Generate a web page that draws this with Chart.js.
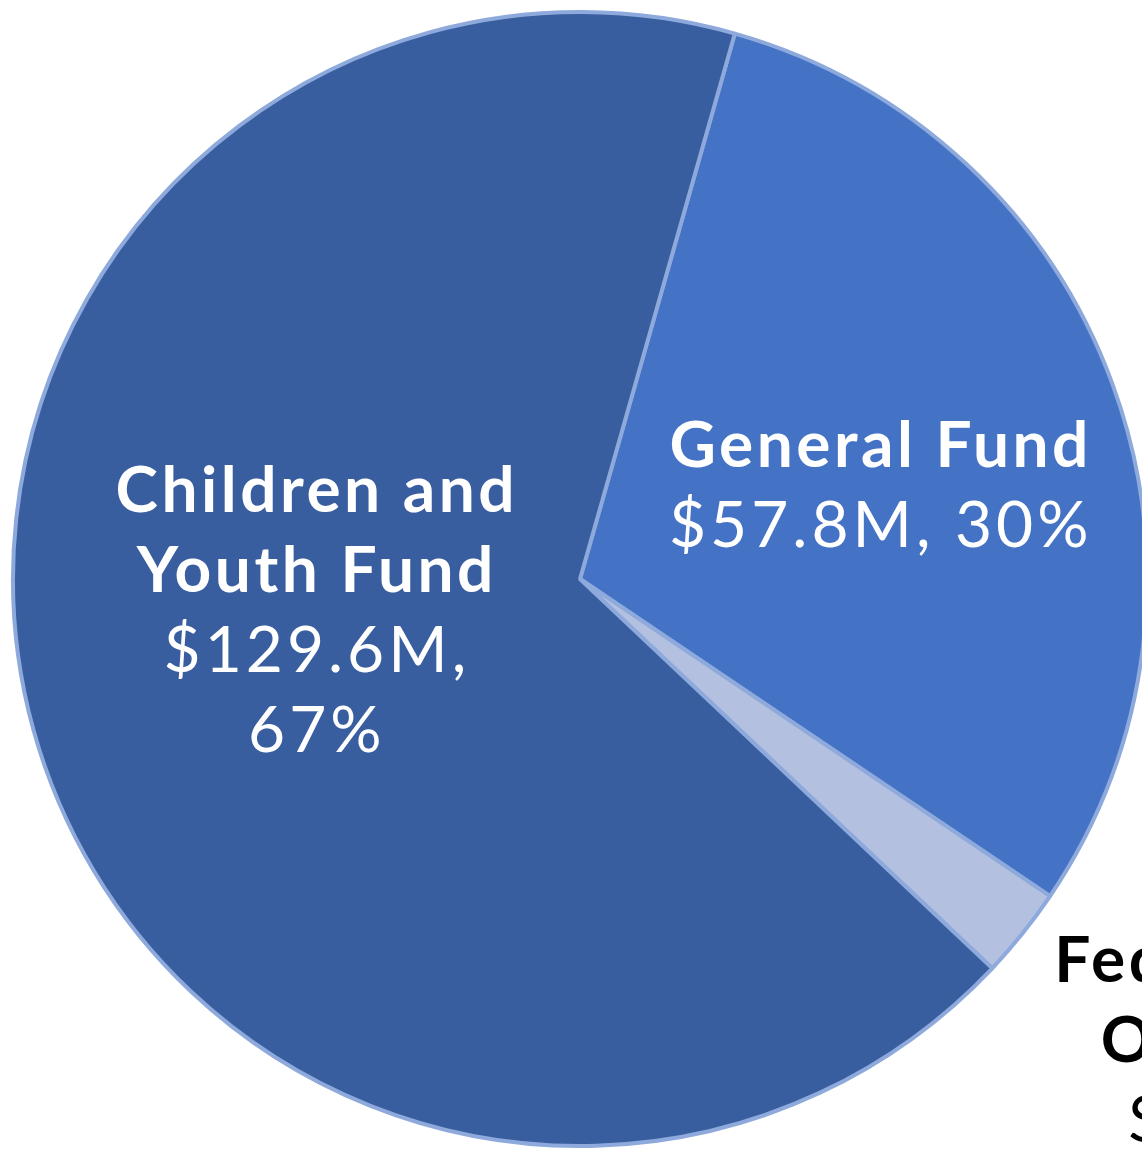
<!DOCTYPE html>
<html>
<head>
<meta charset="utf-8">
<script src="https://cdn.jsdelivr.net/npm/chart.js@4/dist/chart.umd.min.js"></script>
<style>
    html, body { margin: 0; padding: 0; background: #fff; overflow: hidden; }
    #wrap { position: absolute; left: 0; top: 0; width: 1160px; height: 1149px; }
</style>
</head>
<body>
<div id="wrap"><canvas id="fundChart"></canvas></div>
<script>
// Funding sources (millions of dollars), clockwise from the top-right slice
const funds = ['General Fund', 'Federal & State Other Funds', 'Children and Youth Fund'];
const amounts = [57.8, 5.0, 129.6];
const percents = ['30%', '3%', '67%'];

// How each label is broken onto lines (bold name lines, then value lines)
const nameLines = [['General Fund'], ['Federal & State', 'Other Funds'], ['Children and', 'Youth Fund']];
const valueLines = [['$57.8M, 30%'], ['$5.0M, 3%'], ['$129.6M,', '67%']];

const sliceColors = ['#4472C4', '#B4C0E0', '#385E9F'];
const textColors = ['#ffffff', '#000000', '#ffffff'];

// where each label sits: distance from centre (fraction of radius) and angle nudge in degrees
const labelPlace = [
    { dist: 0.556, nudge: 2.6 },
    { dist: 1.504, nudge: -6 },
    { dist: 0.467, nudge: 9 }
];

const sliceLabels = {
    id: 'sliceLabels',
    afterDatasetsDraw(chart) {
        const ctx = chart.ctx;
        const arcs = chart.getDatasetMeta(0).data;
        const lineH = 80;
        ctx.save();
        ctx.textAlign = 'center';
        ctx.textBaseline = 'alphabetic';
        arcs.forEach((arc, i) => {
            const p = arc.getProps(['x', 'y', 'startAngle', 'endAngle', 'outerRadius'], true);
            const mid = (p.startAngle + p.endAngle) / 2 + labelPlace[i].nudge * Math.PI / 180;
            const r = p.outerRadius * labelPlace[i].dist;
            const cx = p.x + Math.cos(mid) * r;
            const cy = p.y + Math.sin(mid) * r;
            const lines = nameLines[i].map(t => ({ t, bold: true }))
                .concat(valueLines[i].map(t => ({ t, bold: false })));
            const capH = 46;
            const top = cy - ((lines.length - 1) * lineH + capH) / 2;
            ctx.fillStyle = textColors[i];
            lines.forEach((ln, j) => {
                ctx.font = ln.bold ? 'bold 64px Lato' : '64px Lato';
                ctx.letterSpacing = ln.bold ? '3.5px' : '4px';
                ctx.fillText(ln.t, cx, top + capH + j * lineH);
            });
        });
        ctx.restore();
    }
};

new Chart(document.getElementById('fundChart'), {
    type: 'pie',
    data: {
        labels: funds,
        datasets: [{
            data: amounts,
            backgroundColor: sliceColors,
            borderColor: '#8EA9DB',
            borderWidth: 4
        }]
    },
    options: {
        responsive: true,
        maintainAspectRatio: false,
        animation: false,
        rotation: 15.85,
        layout: { padding: { left: 11, top: 10, right: 11, bottom: 1 } },
        plugins: {
            legend: { display: false },
            tooltip: { enabled: false }
        }
    },
    plugins: [sliceLabels]
});
</script>
</body>
</html>
